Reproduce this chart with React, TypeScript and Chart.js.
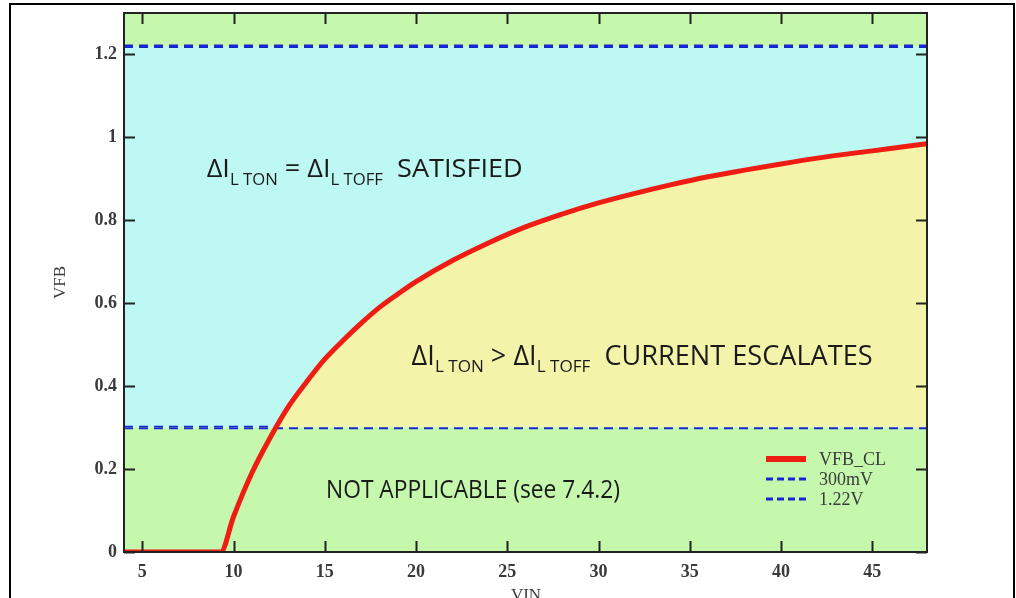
import { useEffect, useRef } from 'react';
import { Chart, registerables } from 'chart.js';

Chart.register(...registerables);

// VFB_CL curve: feedback voltage limit versus input voltage
const vin = [4, 9.3, 10, 11, 12, 13, 14, 15, 16, 17, 18, 19, 20, 22, 24, 26, 28, 30, 32, 34, 36, 38, 40, 42, 44, 46, 48];
const vfbCl = [0, 0, 0.085, 0.19, 0.275, 0.35, 0.41, 0.465, 0.51, 0.552, 0.59, 0.622, 0.652, 0.703, 0.746, 0.784, 0.815, 0.842, 0.865, 0.886, 0.905, 0.921, 0.936, 0.95, 0.962, 0.973, 0.985];

// Reference levels
const level300mV = 0.3;
const level122V = 1.22;

const xTicks = [5, 10, 15, 20, 25, 30, 35, 40, 45];
const yTicks = [0, 0.2, 0.4, 0.6, 0.8, 1, 1.2];
const xRange = [4, 48];
const yRange = [0, 1.3];

const seriesLabels = ['VFB_CL', '300mV', '1.22V'];

type Seg = { text: string; sub?: boolean };

// Region captions
const captionSatisfied: Seg[] = [
  { text: 'ΔI' }, { text: 'L TON', sub: true }, { text: ' = ' },
  { text: 'ΔI' }, { text: 'L TOFF', sub: true }, { text: '  SATISFIED' },
];
const captionEscalates: Seg[] = [
  { text: 'ΔI' }, { text: 'L TON', sub: true }, { text: ' > ' },
  { text: 'ΔI' }, { text: 'L TOFF', sub: true }, { text: '  CURRENT ESCALATES' },
];
const captionNA: Seg[] = [{ text: 'NOT APPLICABLE (see 7.4.2)' }];

const COLORS = {
  green: '#c5f7ad',
  cyan: '#bef8f2',
  yellow: '#f3f3aa',
  red: '#ee1c12',
  blue: '#1526d2',
  frame: '#222222',
  tickText: '#3a3a3a',
  caption: '#1a1a1a',
};

const SANS = "'Open Sans', 'DejaVu Sans', sans-serif";
const SERIF = "'Liberation Serif', 'DejaVu Serif', serif";

function drawRich(
  ctx: CanvasRenderingContext2D,
  segs: Seg[],
  x: number,
  y: number,
  width: number,
  size: number,
  subSize: number,
  subDrop: number
) {
  const fontFor = (s: Seg) => `${s.sub ? subSize : size}px ${SANS}`;
  let total = 0;
  const widths = segs.map((s) => {
    ctx.font = fontFor(s);
    const w = ctx.measureText(s.text).width;
    total += w;
    return w;
  });
  const sx = width / total;
  ctx.save();
  ctx.translate(x, y);
  ctx.scale(sx, 1);
  ctx.fillStyle = COLORS.caption;
  ctx.textBaseline = 'alphabetic';
  ctx.textAlign = 'left';
  let cx = 0;
  segs.forEach((s, i) => {
    ctx.font = fontFor(s);
    ctx.fillText(s.text, cx, s.sub ? subDrop : 0);
    cx += widths[i];
  });
  ctx.restore();
}

// Background bands behind the data
const bandsPlugin = {
  id: 'bands',
  beforeDraw(chart: any) {
    const { ctx, chartArea: a, scales } = chart;
    const y = scales.y;
    ctx.save();
    ctx.fillStyle = COLORS.green;
    ctx.fillRect(a.left, a.top, a.right - a.left, a.bottom - a.top);
    const yTop = y.getPixelForValue(level122V);
    const yBot = y.getPixelForValue(level300mV);
    ctx.fillStyle = COLORS.cyan;
    ctx.fillRect(a.left, yTop, a.right - a.left, yBot - yTop);
    ctx.restore();
  },
};

// Frame, inward ticks, axis titles, legend and captions
const decorPlugin = {
  id: 'decor',
  afterDatasetsDraw(chart: any) {
    const { ctx, chartArea: a, scales } = chart;
    const xs = scales.x;
    const ys = scales.y;
    ctx.save();
    ctx.strokeStyle = COLORS.frame;
    ctx.lineWidth = 2;
    ctx.strokeRect(a.left, a.top, a.right - a.left, a.bottom - a.top);
    const tl = 11;
    ctx.beginPath();
    xTicks.forEach((v) => {
      const px = Math.round(xs.getPixelForValue(v)) + 0.5;
      ctx.moveTo(px, a.bottom);
      ctx.lineTo(px, a.bottom - tl);
      ctx.moveTo(px, a.top);
      ctx.lineTo(px, a.top + tl);
    });
    yTicks.forEach((v) => {
      const py = Math.round(ys.getPixelForValue(v)) + 0.5;
      ctx.moveTo(a.left, py);
      ctx.lineTo(a.left + tl, py);
      ctx.moveTo(a.right, py);
      ctx.lineTo(a.right - tl, py);
    });
    ctx.stroke();

    // captions
    drawRich(ctx, captionSatisfied, xs.getPixelForValue(8.53), ys.getPixelForValue(0.904), 316, 26, 16, 8);
    drawRich(ctx, captionEscalates, xs.getPixelForValue(19.76), ys.getPixelForValue(0.451), 461, 27, 17, 7);
    drawRich(ctx, captionNA, xs.getPixelForValue(15.07), ys.getPixelForValue(0.131), 294, 25, 16, 0);

    // legend
    const lx = a.right - 161;
    const ly = a.bottom - 93;
    const rowH = 20;
    chart.data.datasets.forEach((ds: any, i: number) => {
      const yy = ly + i * rowH;
      ctx.beginPath();
      ctx.strokeStyle = ds.borderColor;
      ctx.lineWidth = i === 0 ? 6 : 3;
      ctx.setLineDash(ds.borderDash ? [7, 4] : []);
      ctx.moveTo(lx, yy);
      ctx.lineTo(lx + 40, yy);
      ctx.stroke();
      ctx.setLineDash([]);
      ctx.fillStyle = COLORS.tickText;
      ctx.font = `18px ${SERIF}`;
      ctx.textAlign = 'left';
      ctx.textBaseline = 'middle';
      ctx.fillText(ds.label, lx + 53, yy + 1);
    });

    // axis titles
    ctx.fillStyle = COLORS.tickText;
    ctx.font = `17px ${SERIF}`;
    ctx.textAlign = 'center';
    ctx.textBaseline = 'middle';
    ctx.save();
    ctx.translate(61, (a.top + a.bottom) / 2);
    ctx.rotate(-Math.PI / 2);
    ctx.fillText('VFB', 0, 0);
    ctx.restore();
    ctx.textBaseline = 'top';
    ctx.fillText('VIN', 526, 587);
    ctx.restore();
  },
};

export default function App() {
  const ref = useRef<HTMLCanvasElement | null>(null);

  useEffect(() => {
    if (!ref.current) return;
    const chart = new Chart(ref.current, {
      type: 'line',
      data: {
        datasets: [
          {
            label: seriesLabels[0],
            data: vin.map((x, i) => ({ x, y: vfbCl[i] })),
            borderColor: COLORS.red,
            borderWidth: 5,
            pointRadius: 0,
            cubicInterpolationMode: 'monotone',
            fill: { target: { value: level300mV }, above: COLORS.yellow, below: 'rgba(0,0,0,0)' },
            order: 0,
          },
          {
            label: seriesLabels[1],
            data: xRange.map((x) => ({ x, y: level300mV })),
            borderColor: COLORS.blue,
            borderWidth: 3.5,
            borderDash: [9, 6],
            pointRadius: 0,
            fill: false,
            order: 1,
          },
          {
            label: seriesLabels[2],
            data: xRange.map((x) => ({ x, y: level122V })),
            borderColor: COLORS.blue,
            borderWidth: 3.5,
            borderDash: [9, 6],
            pointRadius: 0,
            fill: false,
            order: 1,
          },
        ],
      } as any,
      options: {
        animation: false,
        responsive: false,
        layout: { padding: { left: 0, top: 13, right: 89, bottom: 0 } },
        plugins: {
          legend: { display: false },
          tooltip: { enabled: false },
        },
        scales: {
          x: {
            type: 'linear',
            min: xRange[0],
            max: xRange[1],
            grid: { display: false, drawTicks: false },
            border: { display: false },
            afterBuildTicks: (s: any) => {
              s.ticks = xTicks.map((value) => ({ value }));
            },
            afterFit: (s: any) => {
              s.height = 46;
              s.paddingLeft = 0;
              s.paddingRight = 0;
            },
            ticks: {
              padding: 10,
              color: COLORS.tickText,
              font: { family: SERIF, size: 18, weight: 'bold' },
              maxRotation: 0,
              autoSkip: false,
            },
          },
          y: {
            type: 'linear',
            min: yRange[0],
            max: yRange[1],
            grid: { display: false, drawTicks: false },
            border: { display: false },
            afterBuildTicks: (s: any) => {
              s.ticks = yTicks.map((value) => ({ value }));
            },
            afterFit: (s: any) => {
              s.width = 124;
              s.paddingTop = 0;
              s.paddingBottom = 0;
            },
            ticks: {
              padding: 7,
              color: COLORS.tickText,
              font: { family: SERIF, size: 18, weight: 'bold' },
              autoSkip: false,
              callback: (v: any) => String(v),
            },
          },
        },
      } as any,
      plugins: [bandsPlugin, decorPlugin],
    });
    return () => chart.destroy();
  }, []);

  return (
    <>
      <div
        style={{
          position: 'fixed',
          left: 9,
          top: 3,
          width: 1006,
          height: 640,
          border: '2px solid #000',
          boxSizing: 'border-box',
        }}
      />
      <canvas
        ref={ref}
        width={1016}
        height={598}
        style={{ position: 'fixed', left: 0, top: 0, width: 1016, height: 598 }}
      />
    </>
  );
}
